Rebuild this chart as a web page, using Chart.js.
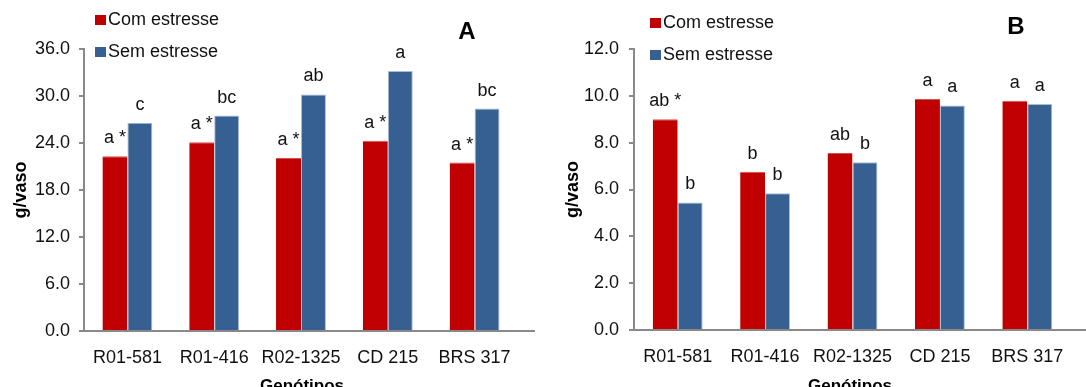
<!DOCTYPE html>
<html>
<head>
<meta charset="utf-8">
<script src="https://cdn.jsdelivr.net/npm/chart.js@4/dist/chart.umd.min.js"></script>
<style>
  html, body { margin: 0; padding: 0; background: #fff; }
  #wrap { position: relative; width: 1086px; height: 387px; overflow: hidden; }
  canvas { position: absolute; top: 0; }
</style>
</head>
<body>
<div id="wrap">
  <canvas id="chartA" width="540" height="387" style="left:0"></canvas>
  <canvas id="chartB" width="546" height="387" style="left:540px"></canvas>
</div>
<script>
// dados
const genotipos = ['R01-581', 'R01-416', 'R02-1325', 'CD 215', 'BRS 317'];
const series = ['Com estresse', 'Sem estresse'];

const comEstresseA = [22.3, 24.1, 22.1, 24.3, 21.5];
const semEstresseA = [26.6, 27.5, 30.2, 33.2, 28.4];
const letrasComA = ['a *', 'a *', 'a *', 'a *', 'a *'];
const letrasSemA = ['c', 'bc', 'ab', 'a', 'bc'];
const ticksA = [0, 6, 12, 18, 24, 30, 36];

const comEstresseB = [9.0, 6.76, 7.56, 9.86, 9.79];
const semEstresseB = [5.45, 5.84, 7.16, 9.59, 9.65];
const letrasComB = ['ab *', 'b', 'ab', 'a', 'a'];
const letrasSemB = ['b', 'b', 'b', 'a', 'a'];
const ticksB = [0, 2, 4, 6, 8, 10, 12];

const RED = '#C00000';
const BLUE = '#376092';
const AXIS = '#898989';
const FONT = "'Liberation Sans', Arial, sans-serif";

// letras sobre as barras, legenda, letra do painel e títulos dos eixos
const extras = {
    id: 'extras',
    afterDatasetsDraw(chart, args, opts) {
        const ctx = chart.ctx;
        const area = chart.chartArea;
        ctx.save();

        // linha do eixo x prolongada até a borda
        const y0 = chart.scales.y.getPixelForValue(0);
        ctx.strokeStyle = AXIS;
        ctx.lineWidth = 2;
        ctx.beginPath();
        ctx.moveTo(area.left, y0);
        ctx.lineTo(opts.axisEnd, y0);
        ctx.stroke();

        // letras de significância
        ctx.fillStyle = '#111';
        ctx.font = '18px ' + FONT;
        ctx.textAlign = 'center';
        ctx.textBaseline = 'middle';
        opts.letters.forEach((arr, di) => {
            chart.getDatasetMeta(di).data.forEach((bar, i) => {
                ctx.fillText(arr[i], bar.x, bar.y - 18);
            });
        });

        // legenda
        ctx.textAlign = 'left';
        ctx.font = '18px ' + FONT;
        chart.data.datasets.forEach((ds, i) => {
            const ly = opts.legendY[i];
            ctx.fillStyle = ds.backgroundColor;
            ctx.fillRect(opts.legendX, ly - 5, 11, 10);
            ctx.fillStyle = '#111';
            ctx.fillText(ds.label, opts.legendX + 13, ly);
        });

        // letra do painel
        ctx.font = 'bold 24px ' + FONT;
        ctx.textAlign = 'center';
        ctx.fillStyle = '#000';
        ctx.fillText(opts.panel, opts.panelX, opts.panelY);

        // títulos dos eixos
        ctx.font = 'bold 17px ' + FONT;
        ctx.fillText('Genótipos', opts.xTitleX, 386);
        ctx.translate(opts.yTitleX, (area.top + area.bottom) / 2);
        ctx.rotate(-Math.PI / 2);
        ctx.font = 'bold 18px ' + FONT;
        ctx.fillText('g/vaso', 0, 0);
        ctx.restore();
    }
};

function makeChart(id, com, sem, ticks, cfg) {
    const max = ticks[ticks.length - 1];
    return new Chart(document.getElementById(id), {
        type: 'bar',
        data: {
            labels: genotipos,
            datasets: [
                {
                    label: series[0],
                    data: com,
                    backgroundColor: RED,
                    borderColor: '#D65050',
                    borderWidth: { left: 0, right: 0, top: 1, bottom: 0 },
                    borderSkipped: 'bottom'
                },
                {
                    label: series[1],
                    data: sem,
                    backgroundColor: BLUE,
                    borderColor: '#A8BDD8',
                    borderWidth: 1,
                    borderSkipped: 'bottom'
                }
            ]
        },
        options: {
            responsive: false,
            animation: false,
            devicePixelRatio: 1,
            layout: { padding: { top: 49, right: cfg.padRight, left: 0, bottom: 0 } },
            datasets: { bar: { categoryPercentage: cfg.catPct, barPercentage: 1.0 } },
            plugins: {
                legend: { display: false },
                tooltip: { enabled: false },
                extras: cfg.extras
            },
            scales: {
                x: {
                    grid: { display: false },
                    border: { display: false },
                    ticks: {
                        color: '#111',
                        font: { family: FONT, size: 18 },
                        padding: 8,
                        maxRotation: 0,
                        autoSkip: false
                    },
                    afterFit: s => { s.height = cfg.bottomH; }
                },
                y: {
                    min: 0,
                    max: max,
                    afterBuildTicks: s => { s.ticks = ticks.map(v => ({ value: v })); },
                    grid: {
                        drawOnChartArea: false,
                        drawTicks: true,
                        tickLength: 5,
                        color: AXIS,
                        lineWidth: 2
                    },
                    border: { display: true, color: AXIS, width: 2 },
                    ticks: {
                        color: '#111',
                        font: { family: FONT, size: 18 },
                        padding: cfg.tickPad,
                        callback: v => Number(v).toFixed(1)
                    },
                    afterFit: s => { s.width = cfg.leftW; }
                }
            }
        },
        plugins: [extras]
    });
}

makeChart('chartA', comEstresseA, semEstresseA, ticksA, {
    padRight: 22, leftW: 84, bottomH: 56, catPct: 0.575, tickPad: 9,
    extras: {
        letters: [letrasComA, letrasSemA],
        axisEnd: 535,
        legendX: 95, legendY: [20, 52],
        panel: 'A', panelX: 467, panelY: 32,
        xTitleX: 302, yTitleX: 21
    }
});

makeChart('chartB', comEstresseB, semEstresseB, ticksB, {
    padRight: 15, leftW: 94, bottomH: 57, catPct: 0.571, tickPad: 10,
    extras: {
        letters: [letrasComB, letrasSemB],
        axisEnd: 546,
        legendX: 110, legendY: [23, 55],
        panel: 'B', panelX: 476, panelY: 27,
        xTitleX: 310, yTitleX: 33
    }
});
</script>
</body>
</html>
